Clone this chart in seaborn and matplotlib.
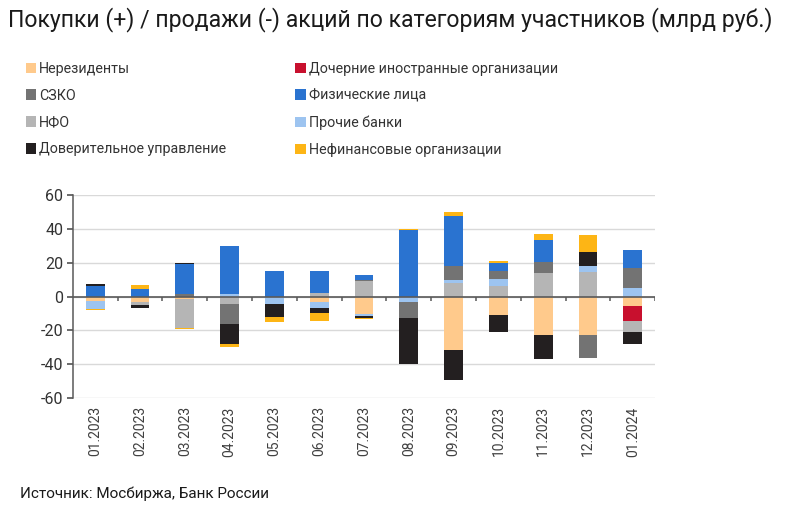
import numpy as np
import pandas as pd
import matplotlib
matplotlib.use("Agg")
import matplotlib.pyplot as plt
import seaborn as sns
from matplotlib.patches import Patch

months = ["01.2023", "02.2023", "03.2023", "04.2023", "05.2023", "06.2023", "07.2023",
          "08.2023", "09.2023", "10.2023", "11.2023", "12.2023", "01.2024"]

nonresidents = [-2.6, -3.0, -1.5, 0.0, 0.0, -3.0, -10.5, 0.0, -31.5, -11.0, -22.5, -22.5, -5.5]
szko = [0.0, 0.0, 1.2, -12.0, 0.0, 0.0, 1.0, -9.0, 8.5, 4.3, 6.3, -13.8, 11.8]
nfo = [0.0, -2.0, -17.0, -4.5, 0.0, 1.8, 9.0, 0.0, 8.0, 6.3, 14.0, 14.6, -6.5]
trust_mgmt = [1.0, -1.5, 0.6, -11.5, -7.5, -2.5, -1.2, -27.5, -18.0, -10.0, -14.6, 7.9, -6.7]
foreign_subs = [0.0, 0.0, 0.0, 0.0, 0.0, 0.0, 0.0, 0.0, 0.0, 0.0, 0.0, 0.0, -9.1]
individuals = [6.5, 4.3, 18.1, 28.4, 15.0, 13.2, 3.0, 39.3, 29.5, 4.7, 13.0, 0.0, 10.5]
other_banks = [-4.5, 0.0, 0.0, 1.5, -4.5, -4.0, -1.0, -3.5, 1.5, 4.3, 0.0, 3.7, 5.1]
nonfin = [-1.0, 2.4, -0.8, -2.0, -3.0, -5.0, -0.5, 0.4, 2.2, 1.1, 3.6, 10.0, 0.0]

names = ["Нерезиденты", "СЗКО", "НФО", "Доверительное управление",
         "Дочерние иностранные организации", "Физические лица", "Прочие банки",
         "Нефинансовые организации"]

df = pd.DataFrame({
    names[0]: nonresidents, names[1]: szko, names[2]: nfo, names[3]: trust_mgmt,
    names[4]: foreign_subs, names[5]: individuals, names[6]: other_banks, names[7]: nonfin,
}, index=months)

palette = dict(zip(names, ["#FFCA8C", "#737373", "#B5B5B5", "#231F20",
                           "#C8102E", "#2A73D0", "#9DC4F0", "#FDB515"]))

pos_order = [names[2], names[6], names[1], names[5], names[3], names[7], names[0], names[4]]
neg_order = [names[0], names[4], names[6], names[2], names[1], names[3], names[7], names[5]]

sns.set_theme(style="white")
plt.rcParams['font.family'] = ['Roboto', 'DejaVu Sans']

fig = plt.figure(figsize=(8, 5.2), dpi=100)
ax = fig.add_axes([0.091, 0.2346, 0.728, 0.3904])

x = np.arange(len(months))
w = 0.42
pos_base = np.zeros(len(months))
neg_base = np.zeros(len(months))
for n in pos_order:
    v = np.clip(df[n].values, 0, None)
    ax.bar(x, v, bottom=pos_base, width=w, color=palette[n], linewidth=0, zorder=3)
    pos_base += v
for n in neg_order:
    v = np.clip(df[n].values, None, 0)
    ax.bar(x, v, bottom=neg_base, width=w, color=palette[n], linewidth=0, zorder=3)
    neg_base += v

ax.set_xlim(-0.5, len(months) - 0.5)
ax.set_ylim(-60, 60)
ax.set_yticks(np.arange(-60, 61, 20))
ax.set_yticklabels([str(v) for v in range(-60, 61, 20)], fontsize=11.5, color="#333333")
ax.yaxis.grid(True, color="#D9D9D9", linewidth=1, zorder=0)
ax.set_axisbelow(True)

ax.set_xticks(x)
ax.set_xticklabels(months, rotation=90, fontsize=10, color="#404040")
ax.tick_params(axis="x", length=0, pad=6)
ax.tick_params(axis="y", length=4, color="#595959", direction="out", left=True, pad=3)

for s in ["top", "right", "bottom"]:
    ax.spines[s].set_visible(False)
ax.spines["left"].set_color("#595959")
ax.spines["left"].set_linewidth(1.1)

ax.axhline(0, color="#595959", linewidth=1.2, zorder=4)
ax.vlines(np.arange(0.5, len(months), 1.0), -2.4, 0, color="#595959", linewidth=1.1, zorder=4)

fig.text(0.01, 0.962, "Покупки (+) / продажи (-) акций по категориям участников (млрд руб.)",
         fontsize=16.6, color="#1a1a1a", va="center", ha="left")

handles = [Patch(facecolor=palette[n], edgecolor="none") for n in names]
fig.legend(handles, names, loc="upper left", bbox_to_anchor=(0.016, 0.906), ncol=2,
           frameon=False, fontsize=10.3, handlelength=0.75, handleheight=0.75,
           handletextpad=0.2, labelspacing=0.9, columnspacing=4.8,
           labelcolor="#333333")

fig.text(0.025, 0.05, "Источник: Мосбиржа, Банк России", fontsize=11, color="#1a1a1a",
         va="center", ha="left")

fig.savefig("out.png", dpi=100)
